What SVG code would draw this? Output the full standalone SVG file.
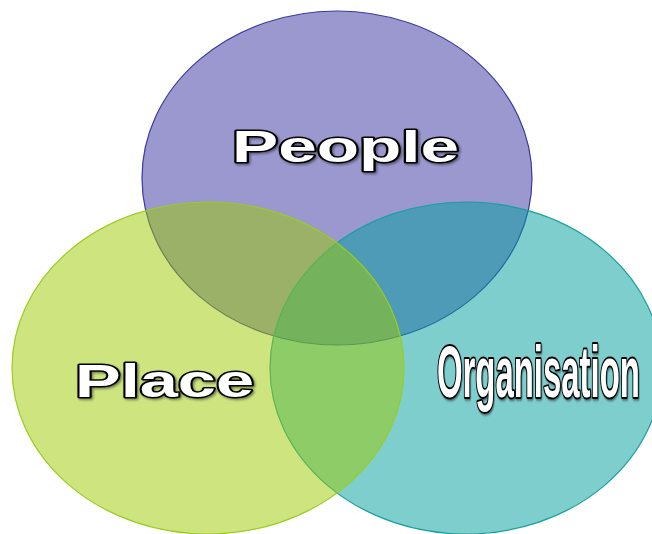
<svg xmlns="http://www.w3.org/2000/svg" width="652" height="534" viewBox="0 0 652 534">
  <defs>
    <filter id="shadow" x="-10%" y="-20%" width="120%" height="150%">
      <feDropShadow dx="1.5" dy="1.5" stdDeviation="0.8" flood-color="#000" flood-opacity="0.45"/>
    </filter>
  </defs>
  <style>
    .circle { fill-opacity: 0.5; stroke-width: 1.2; }
    .label { font-family: "Liberation Sans", Arial, sans-serif; font-weight: bold; fill: #ffffff; stroke: #000000; stroke-width: 3; paint-order: stroke; stroke-linejoin: round; filter: url(#shadow); }
  </style>
  <rect width="652" height="534" fill="#ffffff"/>
  <g id="people">
    <ellipse class="circle" cx="337" cy="178" rx="195" ry="167" fill="#35319d" stroke="#3a3aa0"/>
  </g>
  <g id="organisation">
    <ellipse class="circle" cx="466" cy="368" rx="196" ry="166" fill="#009d9d" stroke="#17a0a0"/>
  </g>
  <g id="place">
    <ellipse class="circle" cx="208" cy="368" rx="196" ry="166" fill="#9bc900" stroke="#9acd1e"/>
  </g>
  <g id="labels">
    <text class="label" x="232" y="162" font-size="44" textLength="227" lengthAdjust="spacingAndGlyphs">People</text>
    <text class="label" x="75" y="397" font-size="47" textLength="179" lengthAdjust="spacingAndGlyphs">Place</text>
    <text class="label" transform="translate(437,397) scale(0.514,1.13)" x="0" y="0" font-size="64" vector-effect="non-scaling-stroke">Organisation</text>
  </g>
  <g id="connectors"/>
</svg>
